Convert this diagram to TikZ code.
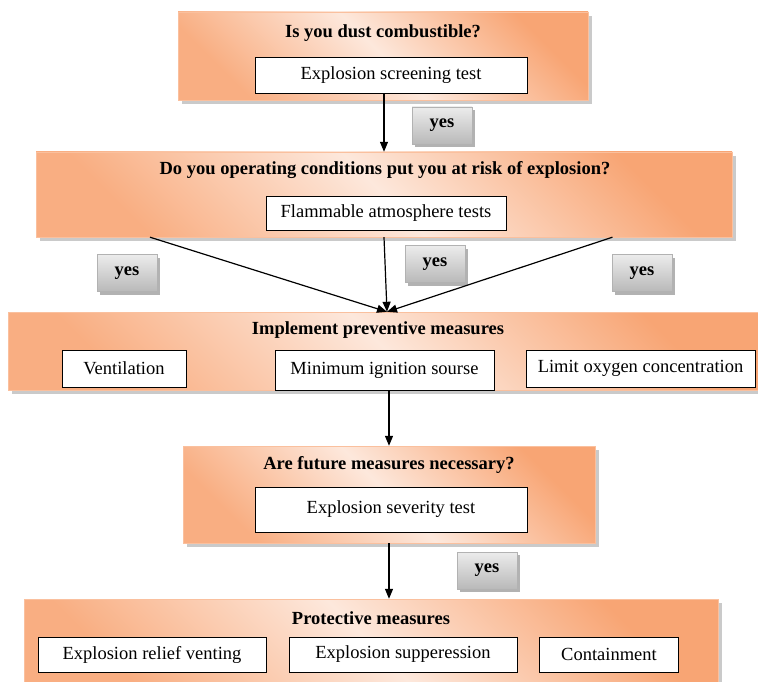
\documentclass[tikz,border=0pt]{standalone}
\usepackage{fontspec}
\setmainfont{Liberation Serif}
\usetikzlibrary{arrows.meta,shadows,calc}
\definecolor{peach}{HTML}{FDE8DC}
\definecolor{apricot}{HTML}{F8A574}
\begin{document}
\begin{tikzpicture}[x=1pt,y=-1pt,font=\fontsize{18.5}{22}\selectfont,
 stage/.style={rectangle,draw=apricot!70,top color=apricot,bottom color=apricot!90,middle color=peach,shading angle=-45,drop shadow={shadow xshift=4pt,shadow yshift=-4pt,fill=gray!70,opacity=0.6}},
 qtext/.style={font=\fontsize{18.5}{22}\selectfont\bfseries},
 test/.style={rectangle,draw=black,fill=white,line width=0.9pt,inner sep=2pt},
 yesbox/.style={rectangle,draw=gray!60,top color=gray!15,bottom color=gray!55,minimum width=60,minimum height=37,font=\fontsize{18.5}{22}\selectfont\bfseries,drop shadow={shadow xshift=3pt,shadow yshift=-3pt,fill=gray!80!black}},
 arr/.style={-{Triangle[length=10pt,width=8pt]},line width=1.2pt}]
 \useasboundingbox (0,0) rectangle (758,682);
 \node[stage,minimum width=410,minimum height=88] (dust) at (383,56) {};
 \node[qtext] (dustq) at (383,33) {Is you dust combustible?};
 \node[test,minimum width=272,minimum height=36] (scr) at (391,75) {Explosion screening test};
 \node[stage,minimum width=696,minimum height=85] (risk) at (384,194.5) {};
 \node[qtext] (riskq) at (385,170) {Do you operating conditions put you at risk of explosion?};
 \node[test,minimum width=240,minimum height=34] (flam) at (386,213) {Flammable atmosphere tests};
 \node[stage,minimum width=758,minimum height=78] (prev) at (387,351) {};
 \node[qtext] (prevq) at (378,330) {Implement preventive measures};
 \node[test,minimum width=124,minimum height=37] (vent) at (124,368.5) {Ventilation};
 \node[test,minimum width=219,minimum height=40] (ign) at (384.5,370) {Minimum ignition sourse};
 \node[test,minimum width=229,minimum height=37] (oxy) at (640.5,368.5) {Limit oxygen concentration};
 \node[stage,minimum width=412,minimum height=97] (fut) at (389,494.5) {};
 \node[qtext] (futq) at (389,465) {Are future measures necessary?};
 \node[test,minimum width=272,minimum height=45] (sev) at (391,509.5) {Explosion severity test};
 \node[stage,minimum width=694,minimum height=90] (prot) at (371,644) {};
 \node[qtext] (protq) at (371,618) {Protective measures};
 \node[test,minimum width=228,minimum height=35] (vent2) at (152,654.5) {Explosion relief venting};
 \node[test,minimum width=228,minimum height=35] (supp) at (403,654.5) {Explosion supperession};
 \node[test,minimum width=139,minimum height=35] (cont) at (609,654.5) {Containment};
 \foreach \n/\x/\y in {yesa/442/125.5,yesb/127/273,yesc/435/264,yesd/642/273,yese/487/570.5}
  \node[yesbox] (\n) at (\x,\y) {yes};
 \draw[arr] (scr.south -| risk.north) -- (risk.north);
 \foreach \p in {0.164,0.5,0.828}
  \draw[arr] ($(risk.south west)!\p!(risk.south east)$) -- (prev.north);
 \draw[arr] (fut.north |- prev.south) -- (fut.north);
 \draw[arr] (fut.south) -- (fut.south |- prot.north);
\end{tikzpicture}
\end{document}
